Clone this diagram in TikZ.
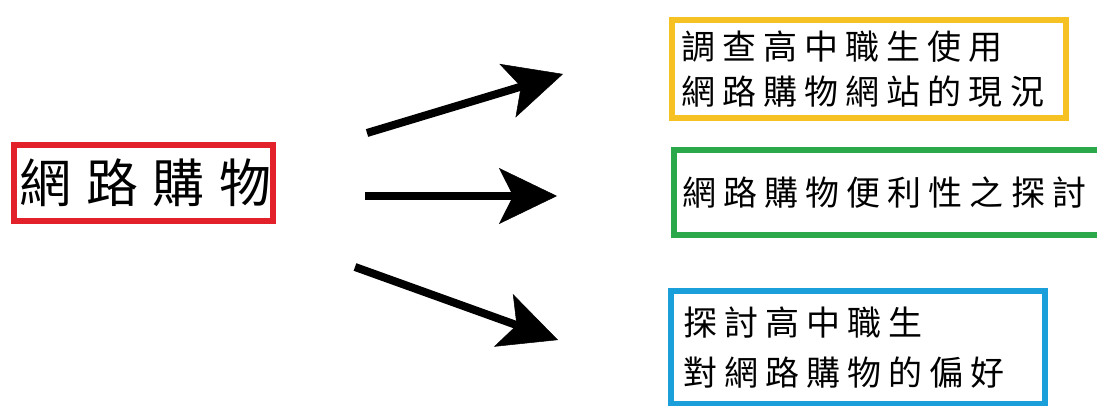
\documentclass[tikz,border=0pt]{standalone}
\usepackage{fontspec}
\newfontfamily\cjkmain[LetterSpace=28]{Noto Sans CJK TC}
\newfontfamily\cjksub[LetterSpace=21]{Noto Sans CJK TC}
\usetikzlibrary{arrows.meta}
\definecolor{boxred}{HTML}{E2212A}
\definecolor{boxyellow}{HTML}{F5C123}
\definecolor{boxgreen}{HTML}{2AA84A}
\definecolor{boxblue}{HTML}{1A9FDB}
\begin{document}
\begin{tikzpicture}[x=1pt,y=-1pt,
  framebox/.style={draw, line width=5.5pt, inner sep=0pt, align=left},
  maintext/.style={font=\fontsize{52}{60}\selectfont\cjkmain},
  subtext/.style={font=\fontsize{34}{45}\selectfont\cjksub},
  bigarrow/.style={line width=8pt, -{Stealth[length=58pt,width=56pt,inset=14pt,line width=0.5pt]}}]
\useasboundingbox (0,0) rectangle (1097,406);
\fill[white] (0,0) rectangle (1097,406);
\node[framebox, draw=boxred, minimum width=259pt, minimum height=76pt, maintext] (main) at (143.5,183) {網路購物\hspace{-4pt}};
\node[framebox, draw=boxyellow, minimum width=394pt, minimum height=98pt, text width=376pt, subtext] (survey) at (869,69) {調查高中職生使用\\網路購物網站的現況};
\node[framebox, draw=boxgreen, minimum width=438pt, minimum height=85pt, text width=422pt, subtext] (conv) at (893,192.5) {網路購物便利性之探討};
\node[framebox, draw=boxblue, minimum width=374pt, minimum height=113pt, text width=350pt, subtext, font=\fontsize{34}{50}\selectfont\cjksub] (pref) at (858,347.5) {探討高中職生\\對網路購物的偏好};
\coordinate (t1) at (367,133);
\coordinate (h1) at (563,74);
\coordinate (t2) at (365,196);
\coordinate (h2) at (557,196);
\coordinate (t3) at (355,267);
\coordinate (h3) at (558,340);
\draw[bigarrow] (t1) -- (h1);
\draw[bigarrow] (t2) -- (h2);
\draw[bigarrow] (t3) -- (h3);
\end{tikzpicture}
\end{document}
